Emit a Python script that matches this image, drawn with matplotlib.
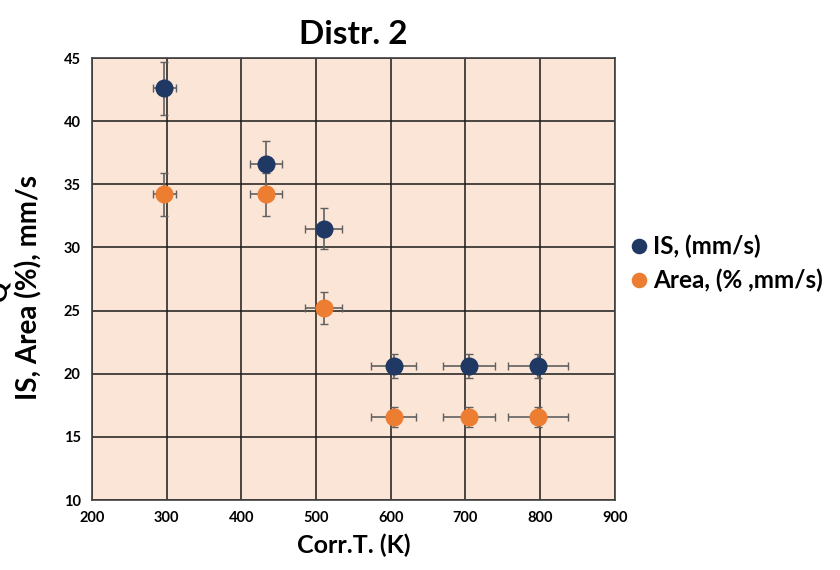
import numpy as np
import matplotlib
matplotlib.use("Agg")
import matplotlib.pyplot as plt

plt.rcParams['font.family'] = ['Lato', 'DejaVu Sans']
plt.rcParams['font.weight'] = 'bold'

# data
temp = [297, 433, 510, 604, 705, 797]
temp_err = [15, 21, 25, 30, 35, 40]
is_vals = [42.6, 36.6, 31.5, 20.6, 20.6, 20.6]
is_err = [2.1, 1.8, 1.6, 0.95, 0.95, 0.95]
area_vals = [34.2, 34.2, 25.2, 16.6, 16.6, 16.6]
area_err = [1.7, 1.7, 1.3, 0.8, 0.8, 0.8]

x_ticks = [200, 300, 400, 500, 600, 700, 800, 900]
y_ticks = [10, 15, 20, 25, 30, 35, 40, 45]

fig = plt.figure(figsize=(8.4, 5.7), dpi=100)
ax = fig.add_axes([0.1095, 0.1228, 0.6225, 0.7754])
ax.set_facecolor('#FBE5D6')

ax.errorbar(temp, is_vals, xerr=temp_err, yerr=is_err, fmt='o', color='#1F3864',
            ms=12, ecolor='#606060', elinewidth=1.2, capsize=3, capthick=1,
            label='IS, (mm/s)', zorder=3)
ax.errorbar(temp, area_vals, xerr=temp_err, yerr=area_err, fmt='o', color='#ED7D31',
            ms=12, ecolor='#606060', elinewidth=1.2, capsize=3, capthick=1,
            label='Area, (% ,mm/s)', zorder=3)

ax.set_xlim(200, 900)
ax.set_ylim(10, 45)
ax.set_xticks(x_ticks)
ax.set_yticks(y_ticks)
ax.grid(True, color='#1a1a1a', linewidth=1.1)
ax.set_axisbelow(True)
ax.tick_params(length=0, labelsize=10.5, pad=8)
for lab in ax.get_xticklabels() + ax.get_yticklabels():
    lab.set_fontweight('bold')
for s in ax.spines.values():
    s.set_color('#404040')
    s.set_linewidth(1.2)

ax.set_title('Distr. 2', fontsize=24, fontweight='bold', pad=10)
ax.set_xlabel('Corr.T. (K)', fontsize=18, fontweight='bold', labelpad=6)
ax.set_ylabel('IS, Area (%), mm/s', fontsize=20, fontweight='bold')
ax.yaxis.set_label_coords(-0.094, 0.48)

# clipped fragment of a second label line at the left edge
fig.text(0.012, 0.49, 'Q', rotation=90, fontsize=18, fontweight='bold',
         ha='right', va='center')

handles, labels = ax.get_legend_handles_labels()
handles = [h[0] for h in handles]
ax.legend(handles, labels, loc='center left', bbox_to_anchor=(0.985, 0.535),
          frameon=False, fontsize=17.5, handletextpad=0.0, handlelength=1.2,
          markerscale=0.85, labelspacing=0.45, borderaxespad=0.3)

fig.savefig('out.png', dpi=100)
